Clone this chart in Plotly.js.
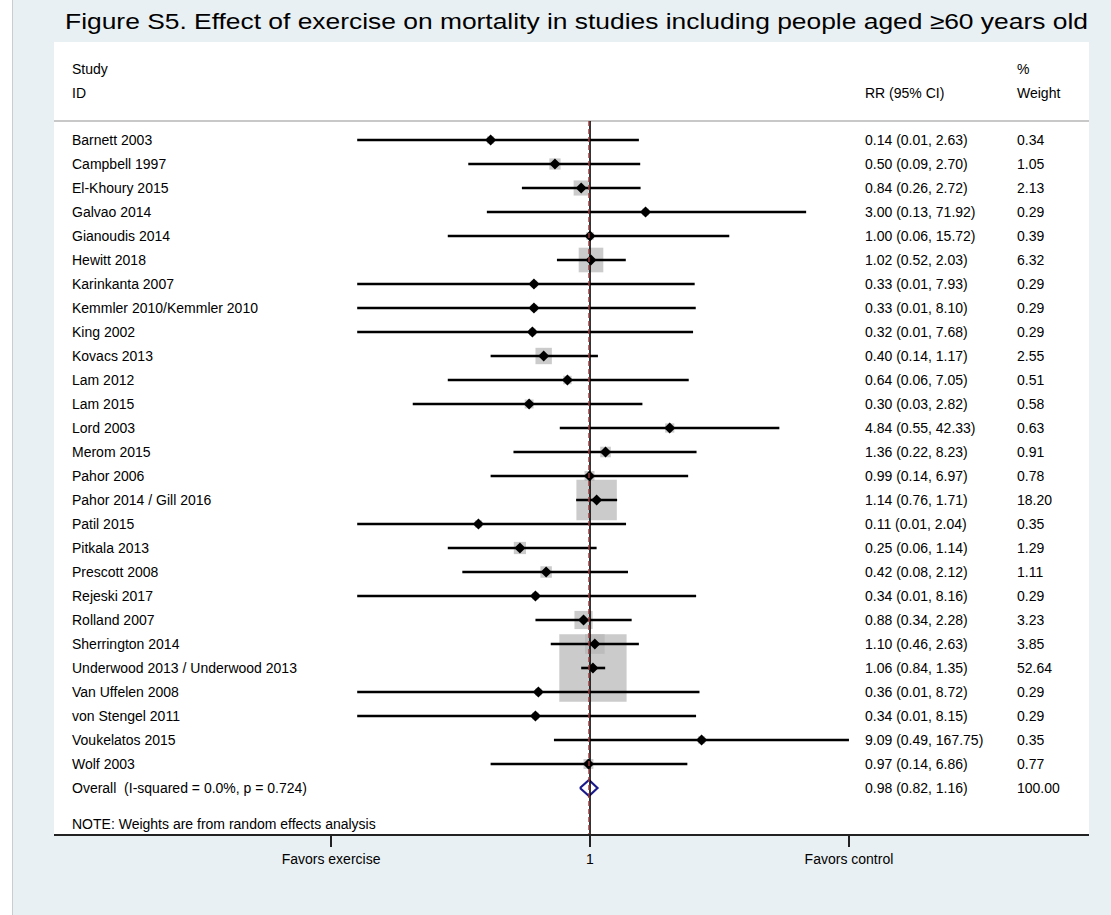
<!DOCTYPE html>
<html>
<head>
<meta charset="utf-8">
<script src="https://cdn.plot.ly/plotly-3.0.1.min.js"></script>
<style>
  html, body { margin: 0; padding: 0; background: #ffffff; }
  #wrap { position: absolute; left: 12px; top: 0; border-left: 1px solid #c9cdd0; }
  #chart { width: 1098px; height: 915px; }
  /* wide-set heading */
  #chart text.gtitle { transform-box: fill-box; transform-origin: 50% 50%; transform: scaleX(1.2); }
</style>
</head>
<body>
<div id="wrap"><div id="chart"></div></div>
<script>
// Study-level results: relative risk of death with 95% CI and random-effects weight (%)
const studies = [
  'Barnett 2003', 'Campbell 1997', 'El-Khoury 2015', 'Galvao 2014', 'Gianoudis 2014',
  'Hewitt 2018', 'Karinkanta 2007', 'Kemmler 2010/Kemmler 2010', 'King 2002', 'Kovacs 2013',
  'Lam 2012', 'Lam 2015', 'Lord 2003', 'Merom 2015', 'Pahor 2006',
  'Pahor 2014 / Gill 2016', 'Patil 2015', 'Pitkala 2013', 'Prescott 2008', 'Rejeski 2017',
  'Rolland 2007', 'Sherrington 2014', 'Underwood 2013 / Underwood 2013', 'Van Uffelen 2008', 'von Stengel 2011',
  'Voukelatos 2015', 'Wolf 2003'
];
const rr = [
  0.14, 0.50, 0.84, 3.00, 1.00,
  1.02, 0.33, 0.33, 0.32, 0.40,
  0.64, 0.30, 4.84, 1.36, 0.99,
  1.14, 0.11, 0.25, 0.42, 0.34,
  0.88, 1.10, 1.06, 0.36, 0.34,
  9.09, 0.97
];
const ciLow = [
  0.01, 0.09, 0.26, 0.13, 0.06,
  0.52, 0.01, 0.01, 0.01, 0.14,
  0.06, 0.03, 0.55, 0.22, 0.14,
  0.76, 0.01, 0.06, 0.08, 0.01,
  0.34, 0.46, 0.84, 0.01, 0.01,
  0.49, 0.14
];
const ciHigh = [
  2.63, 2.70, 2.72, 71.92, 15.72,
  2.03, 7.93, 8.10, 7.68, 1.17,
  7.05, 2.82, 42.33, 8.23, 6.97,
  1.71, 2.04, 1.14, 2.12, 8.16,
  2.28, 2.63, 1.35, 8.72, 8.15,
  167.75, 6.86
];
const weights = [
  0.34, 1.05, 2.13, 0.29, 0.39,
  6.32, 0.29, 0.29, 0.29, 2.55,
  0.51, 0.58, 0.63, 0.91, 0.78,
  18.20, 0.35, 1.29, 1.11, 0.29,
  3.23, 3.85, 52.64, 0.29, 0.29,
  0.35, 0.77
];

// Pooled estimate
const overallLabel = 'Overall\u00a0\u00a0(I-squared = 0.0%, p = 0.724)';
const overallRR = 0.98;
const overallLow = 0.82;
const overallHigh = 1.16;
const overallWeight = 100.00;

// Axis labelling
const axisTickText = ['Favors exercise', '1', 'Favors control'];
const noteText = 'NOTE: Weights are from random effects analysis';
const titleText = 'Figure S5. Effect of exercise on mortality in studies including people aged \u226560 years old';

// ---- layout helpers (pixel geometry of the panel) ----
const W = 1098, H = 915;
const PAGE_OFFSET = 13;        // chart div starts this far from the page edge
const M = { l: 41, r: 22, t: 42, b: 81 };
const plotW = W - M.l - M.r;
const plotLeft = PAGE_OFFSET + M.l;
const ROW_PX = 24;             // vertical spacing of study rows
const FIRST_ROW_Y = 98;        // first study row, px below the top of the plot area
const DECADE_PX = 116.4;       // horizontal px per factor of ten
const NULL_X_PX = 536;         // px from left edge of plot area to RR = 1
const pxToPaper = px => (px - plotLeft) / plotW;  // page px -> paper fraction
const yTop = -FIRST_ROW_Y / ROW_PX;
const yBottom = (H - M.t - M.b - FIRST_ROW_Y) / ROW_PX;

const n = studies.length;
const rows = studies.map((_, i) => i);
const overallRow = n;

const FONT = 'Arial, "Liberation Sans", Helvetica, sans-serif';
const TEXT_SIZE = 14;
const fmt = v => v.toFixed(2);

// CI segments, broken with nulls
const ciX = [], ciY = [];
for (let i = 0; i < n; i++) {
  ciX.push(ciLow[i], ciHigh[i], null);
  ciY.push(rows[i], rows[i], null);
}

// box side grows with the square root of the weight (area proportional to weight)
const boxSize = weights.map(w => 9.0 * Math.sqrt(w) + 2);

const diamondHalf = 8 / ROW_PX;

const traces = [
  {
    type: 'scatter', mode: 'markers', x: rr, y: rows,
    marker: { symbol: 'square', size: boxSize, color: '#b5b5b5', line: { width: 0 } },
    hoverinfo: 'skip', cliponaxis: false
  },
  {
    type: 'scatter', mode: 'lines', x: ciX, y: ciY, connectgaps: false,
    line: { color: '#000000', width: 2.6 }, hoverinfo: 'skip'
  },
  {
    type: 'scatter', mode: 'markers', x: rr, y: rows,
    marker: { symbol: 'diamond', size: 8.5, color: '#000000', line: { width: 0 } },
    hoverinfo: 'skip'
  },
  {
    type: 'scatter', mode: 'lines',
    x: [overallLow, overallRR, overallHigh, overallRR, overallLow],
    y: [overallRow, overallRow - diamondHalf, overallRow, overallRow + diamondHalf, overallRow],
    line: { color: '#1a1a8c', width: 2.2 }, hoverinfo: 'skip'
  }
];

const annotations = [];
const addText = (text, px, row) => annotations.push({
  text: text, x: pxToPaper(px), xref: 'paper', xanchor: 'left',
  y: row, yref: 'y', yanchor: 'middle', showarrow: false,
  font: { family: FONT, size: TEXT_SIZE, color: '#000000' }
});

const xStudy = 70, xRR = 863, xWeight = 1015;
addText('Study', xStudy, -2.96);
addText('ID', xStudy, -1.96);
addText('RR (95% CI)', xRR, -1.96);
addText('%', xWeight, -2.96);
addText('Weight', xWeight, -1.96);

for (let i = 0; i < n; i++) {
  addText(studies[i], xStudy, rows[i]);
  addText(`${fmt(rr[i])} (${fmt(ciLow[i])}, ${fmt(ciHigh[i])})`, xRR, rows[i]);
  addText(fmt(weights[i]), xWeight, rows[i]);
}
addText(overallLabel, xStudy, overallRow);
addText(`${fmt(overallRR)} (${fmt(overallLow)}, ${fmt(overallHigh)})`, xRR, overallRow);
addText(fmt(overallWeight), xWeight, overallRow);
addText(noteText, xStudy, 28.5);

const sepRow = -0.79;
const shapes = [
  { type: 'line', xref: 'paper', x0: 0, x1: 1, yref: 'y', y0: sepRow, y1: sepRow,
    line: { color: '#c8c8c8', width: 2 } },
  { type: 'line', xref: 'x', x0: 1, x1: 1, yref: 'y', y0: sepRow, y1: yBottom,
    line: { color: '#000000', width: 1.6 } },
  { type: 'line', xref: 'x', x0: overallRR, x1: overallRR, yref: 'y', y0: sepRow, y1: yBottom,
    line: { color: '#9a3c3c', width: 1.4, dash: '5px,3px' } }
];

// symmetric limits around the null, set by the widest confidence limit
const maxCI = Math.max(...ciHigh);
const xLeft = -NULL_X_PX / DECADE_PX;
const xRight = (plotW - NULL_X_PX) / DECADE_PX;

const layout = {
  width: W, height: H,
  margin: M,
  paper_bgcolor: '#e9f0f3',
  plot_bgcolor: '#ffffff',
  showlegend: false,
  title: {
    text: titleText,
    font: { family: FONT, size: 22, color: '#000000' },
    xref: 'container', x: (576.5 - PAGE_OFFSET) / W, xanchor: 'center',
    yref: 'container', y: 1 - 21 / H, yanchor: 'middle'
  },
  xaxis: {
    type: 'log', range: [xLeft, xRight], fixedrange: true,
    tickvals: [1 / maxCI, 1, maxCI], ticktext: axisTickText,
    ticks: 'outside', ticklen: 11, tickwidth: 1.5, tickcolor: '#222222',
    showline: true, linecolor: '#222222', linewidth: 2,
    showgrid: false, zeroline: false,
    tickfont: { family: FONT, size: TEXT_SIZE, color: '#000000' }
  },
  yaxis: {
    range: [yBottom, yTop], visible: false, fixedrange: true,
    showgrid: false, zeroline: false
  },
  annotations: annotations,
  shapes: shapes
};

Plotly.newPlot('chart', traces, layout, { displayModeBar: false, staticPlot: true });
</script>
</body>
</html>
